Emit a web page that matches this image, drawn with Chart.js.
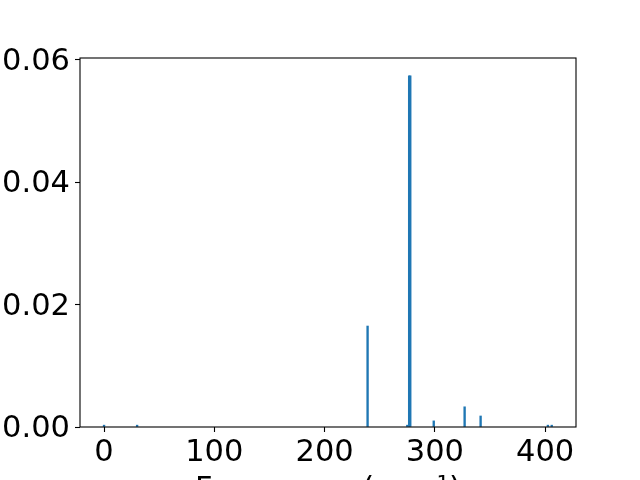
<!DOCTYPE html>
<html>
<head>
<meta charset="utf-8">
<script src="https://cdn.jsdelivr.net/npm/chart.js@4/dist/chart.umd.min.js"></script>
<style>
  html, body { margin: 0; padding: 0; overflow: hidden; background: #fff; }
  canvas { display: block; }
</style>
</head>
<body>
<canvas id="chart" width="640" height="508"></canvas>
<script>
// mode frequencies (cm^-1) and intensities
const frequencies = [0, 30, 239, 275, 276.7, 277.7, 299, 327, 341.5, 402.5, 406];
const intensities = [0.0003, 0.0003, 0.0165, 0.0003, 0.0574, 0.0574, 0.001, 0.0033, 0.0018, 0.0003, 0.0003];
const xTicks = [0, 100, 200, 300, 400];
const yTicks = [0, 0.02, 0.04, 0.06];

const points = frequencies.map((f, i) => ({ x: f, y: intensities[i] }));
const font = { family: 'DejaVu Sans', size: 30.5 };

// box around the plot area, like the four spines
const frame = {
  id: 'frame',
  afterDraw(chart) {
    const { ctx, chartArea: a } = chart;
    ctx.save();
    ctx.strokeStyle = '#000';
    ctx.lineWidth = 1.1;
    ctx.strokeRect(a.left, a.top, a.right - a.left, a.bottom - a.top);
    ctx.restore();
  }
};

new Chart(document.getElementById('chart').getContext('2d'), {
  type: 'bar',
  data: {
    datasets: [{
      data: points,
      backgroundColor: '#1f77b4',
      borderWidth: 0,
      barThickness: 1.7
    }]
  },
  options: {
    responsive: false,
    animation: false,
    devicePixelRatio: 1,
    layout: { padding: { top: 58, right: 64, left: 0, bottom: 0 } },
    plugins: { legend: { display: false }, tooltip: { enabled: false } },
    scales: {
      x: {
        type: 'linear',
        min: -21.8,
        max: 428,
        offset: false,
        afterBuildTicks(scale) { scale.ticks = xTicks.map(v => ({ value: v })); },
        afterFit(scale) { scale.height = 81; },
        grid: { offset: false, drawOnChartArea: false, drawTicks: true, tickLength: 5, tickColor: '#000', tickWidth: 1.1 },
        border: { display: false },
        ticks: { color: '#000', font: font, padding: 3, maxRotation: 0, autoSkip: false,
                  callback: v => String(v) },
        title: { display: true, text: 'Frequency (cm⁻¹)', color: '#000', font: font,
                 padding: { top: 0, bottom: 0 } }
      },
      y: {
        min: 0,
        max: 0.0603,
        afterBuildTicks(scale) { scale.ticks = yTicks.map(v => ({ value: v })); },
        afterFit(scale) { scale.width = 80; },
        grid: { offset: false, drawOnChartArea: false, drawTicks: true, tickLength: 5, tickColor: '#000', tickWidth: 1.1 },
        border: { display: false },
        ticks: { color: '#000', font: font, padding: 5, labelOffset: 2,
                 callback: v => v.toFixed(2) }
      }
    }
  },
  plugins: [frame]
});
</script>
</body>
</html>
